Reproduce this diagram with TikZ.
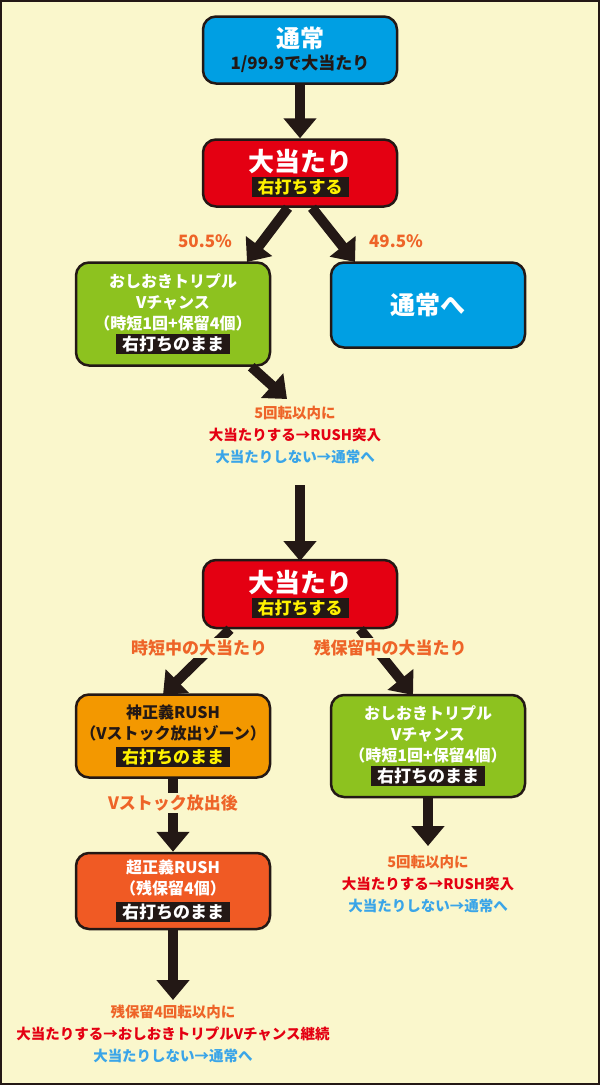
\documentclass[tikz,border=0pt]{standalone}
\usepackage{fontspec}
\newfontfamily\jp{Noto Sans CJK JP}
\usetikzlibrary{arrows.meta}
\definecolor{bgc}{RGB}{250,247,204}
\definecolor{blu}{RGB}{0,159,227}
\definecolor{rd}{RGB}{228,0,18}
\definecolor{grn}{RGB}{141,194,31}
\definecolor{org}{RGB}{243,152,0}
\definecolor{ored}{RGB}{240,90,36}
\definecolor{lbl}{RGB}{238,100,40}
\definecolor{skb}{RGB}{58,165,232}
\definecolor{ylw}{RGB}{255,241,0}
\definecolor{band}{RGB}{35,24,21}
\newcommand{\bandtxt}[2]{{\fontsize{17}{19}\selectfont\setlength{\fboxsep}{2pt}\colorbox{band}{\textcolor{#1}{\hspace{4pt}#2\hspace{4pt}}}}}
\tikzset{
  every picture/.style={line width=0.75pt},
  box/.style={draw=band, line width=2.5pt, rounded corners=13pt, minimum width=194pt, align=center, font=\jp\bfseries\fontsize{16}{21}\selectfont, text=white, inner sep=2pt},
  flow/.style={draw=band, line width=10pt, -{Triangle[length=20pt,width=32pt]}},
  pct/.style={font=\jp\bfseries\fontsize{17}{19}\selectfont, text=lbl, fill=bgc, inner sep=2pt},
  note/.style={font=\jp\bfseries\fontsize{14.5}{22}\selectfont, align=center},
}
\begin{document}
\begin{tikzpicture}[x=1pt,y=1pt,yscale=-1]
	\fill[bgc] (0,0) rectangle (600,1085);
	\draw[band, line width=2pt] (1,1) rectangle (599,1084);

	% boxes
	\node[box, fill=blu, minimum height=67pt] (normal) at (300,50) {{\fontsize{24}{25}\selectfont 通常}\\[1pt]{\fontsize{17}{19}\selectfont\textcolor{band}{1/99.9で大当たり}}};
	\node[box, fill=rd, minimum height=67pt] (hitA) at (300,173) {{\fontsize{26}{26}\selectfont 大当たり}\\[1pt]\bandtxt{ylw}{右打ちする}};
	\node[box, fill=grn, minimum height=103pt] (tripleA) at (173,314) {おしおきトリプル\\Vチャンス\\（時短1回+保留4個）\\\bandtxt{white}{右打ちのまま}};
	\node[box, fill=blu, minimum height=85pt, font=\jp\bfseries\fontsize{25}{26}\selectfont] (back) at (428,305) {通常へ};
	\node[box, fill=rd, minimum height=68pt] (hitB) at (300,594) {{\fontsize{26}{26}\selectfont 大当たり}\\[1pt]\bandtxt{ylw}{右打ちする}};
	\node[box, fill=org, minimum height=83pt, text=band] (rush) at (173,736) {神正義RUSH\\（Vストック放出ゾーン）\\[3pt]\bandtxt{ylw}{右打ちのまま}};
	\node[box, fill=grn, minimum height=102pt] (tripleB) at (428,746) {おしおきトリプル\\Vチャンス\\（時短1回+保留4個）\\\bandtxt{white}{右打ちのまま}};
	\node[box, fill=ored, minimum height=76pt] (super) at (173,891) {超正義RUSH\\（残保留4個）\\[3pt]\bandtxt{white}{右打ちのまま}};

	% notes
	\node[note] (noteA) at (295,435) {\textcolor{lbl}{5回転以内に}\\\textcolor{rd}{大当たりする→RUSH突入}\\\textcolor{skb}{大当たりしない→通常へ}};
	\node[note] (noteB) at (428,884) {\textcolor{lbl}{5回転以内に}\\\textcolor{rd}{大当たりする→RUSH突入}\\\textcolor{skb}{大当たりしない→通常へ}};
	\node[note] (noteC) at (173,1034) {\textcolor{lbl}{残保留4回転以内に}\\\textcolor{rd}{大当たりする→おしおきトリプルVチャンス継続}\\\textcolor{skb}{大当たりしない→通常へ}};
	\coordinate (topA) at (300,485);
	\coordinate (endA) at (300,561);

	% connectors
	\draw[flow] (normal) -- (hitA);
	\draw[flow] (hitA.south) ++(-12,0) coordinate (sA) (sA) -- (247,262);
	\draw[flow] (hitA.south) ++(12,0) coordinate (sB) (sB) -- (355,262);
	\draw[flow] (tripleA.south east) ++(-20,0) coordinate (sC) (sC) -- (287,399);
	\draw[flow] (topA) -- (endA);
	\draw[flow] (hitB.south) ++(-70,0) coordinate (sD) (sD) -- (163,695);
	\draw[flow] (hitB.south) ++(60,0) coordinate (sE) (sE) -- (413,695);
	\draw[flow] (rush) -- (super);
	\draw[flow] (tripleB) -- (428,846);
	\draw[flow] (super) -- (173,1000);

	% labels
	\node[pct, fill=none] (pA) at (205,241) {50.5\%};
	\node[pct, fill=none] (pB) at (396,241) {49.5\%};
	\node[pct] (lA) at (199,648) {時短中の大当たり};
	\node[pct] (lB) at (390,648) {残保留中の大当たり};
	\node[pct] (lC) at (173,803) {Vストック放出後};
\end{tikzpicture}
\end{document}
